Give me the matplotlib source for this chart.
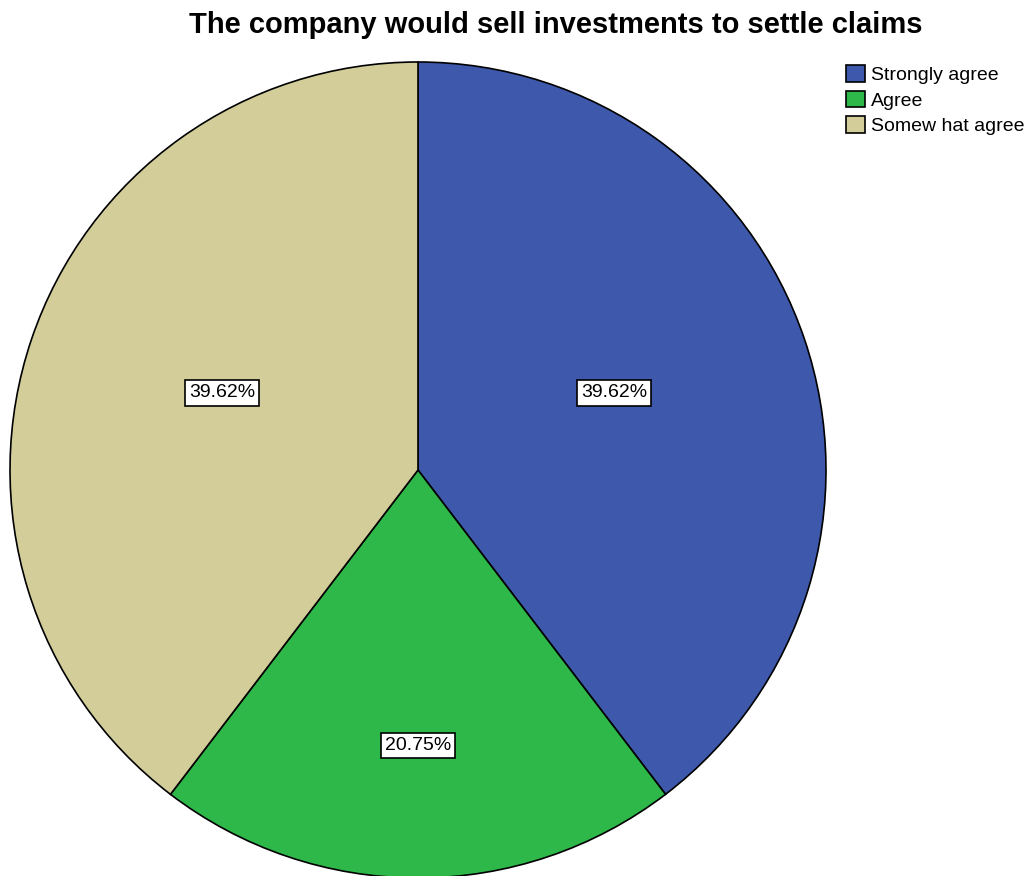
import numpy as np
import matplotlib
matplotlib.use("Agg")
import matplotlib.pyplot as plt

plt.rcParams["font.family"] = ["Liberation Sans", "DejaVu Sans"]

TITLE = "The company would sell investments to settle claims"
CATEGORIES = ["Strongly agree", "Agree", "Somew hat agree"]
PERCENTS = [39.62, 20.75, 39.62]
COLORS = ["#3e59ac", "#2fb84a", "#d3ce99"]
# where each percentage label sits: fraction of the radius, and a small
# angular nudge (degrees) away from the wedge's middle
LABEL_DIST = [0.516, 0.675, 0.516]
LABEL_NUDGE = [2.8, 0.0, -2.8]

fig = plt.figure(figsize=(10.29, 8.76), dpi=100)
W, H = 1029, 876

# pie occupies a square region: left 10 px, top 62 px, diameter 816 px
d = 816
ax = fig.add_axes([10 / W, (H - 62 - d) / H, d / W, d / H])

wedges, _ = ax.pie(
    PERCENTS,
    colors=COLORS,
    startangle=90,
    counterclock=False,
    radius=1.0,
    wedgeprops={"edgecolor": "black", "linewidth": 1.2},
)
ax.set_xlim(-1, 1)
ax.set_ylim(-1, 1)
ax.set_aspect("equal")
ax.axis("off")

for wedge, pct, dist, nudge in zip(wedges, PERCENTS, LABEL_DIST, LABEL_NUDGE):
    mid = np.deg2rad((wedge.theta1 + wedge.theta2) / 2 + nudge)
    ax.text(
        dist * np.cos(mid),
        dist * np.sin(mid),
        f"{pct:.2f}%",
        ha="center",
        va="center",
        fontsize=14,
        bbox={
            "boxstyle": "square,pad=0.22",
            "facecolor": "white",
            "edgecolor": "black",
            "linewidth": 1.2,
        },
    )

fig.text(
    556 / W,
    1 - 25 / H,
    TITLE,
    ha="center",
    va="center",
    fontsize=21,
    fontweight="bold",
)

fig.legend(
    wedges,
    CATEGORIES,
    loc="upper left",
    bbox_to_anchor=(846 / W, 1 - 65 / H),
    frameon=False,
    fontsize=14,
    borderpad=0,
    borderaxespad=0,
    handlelength=1.0,
    handleheight=0.95,
    handletextpad=0.3,
    labelspacing=0.34,
)

fig.savefig("out.png", dpi=100)
